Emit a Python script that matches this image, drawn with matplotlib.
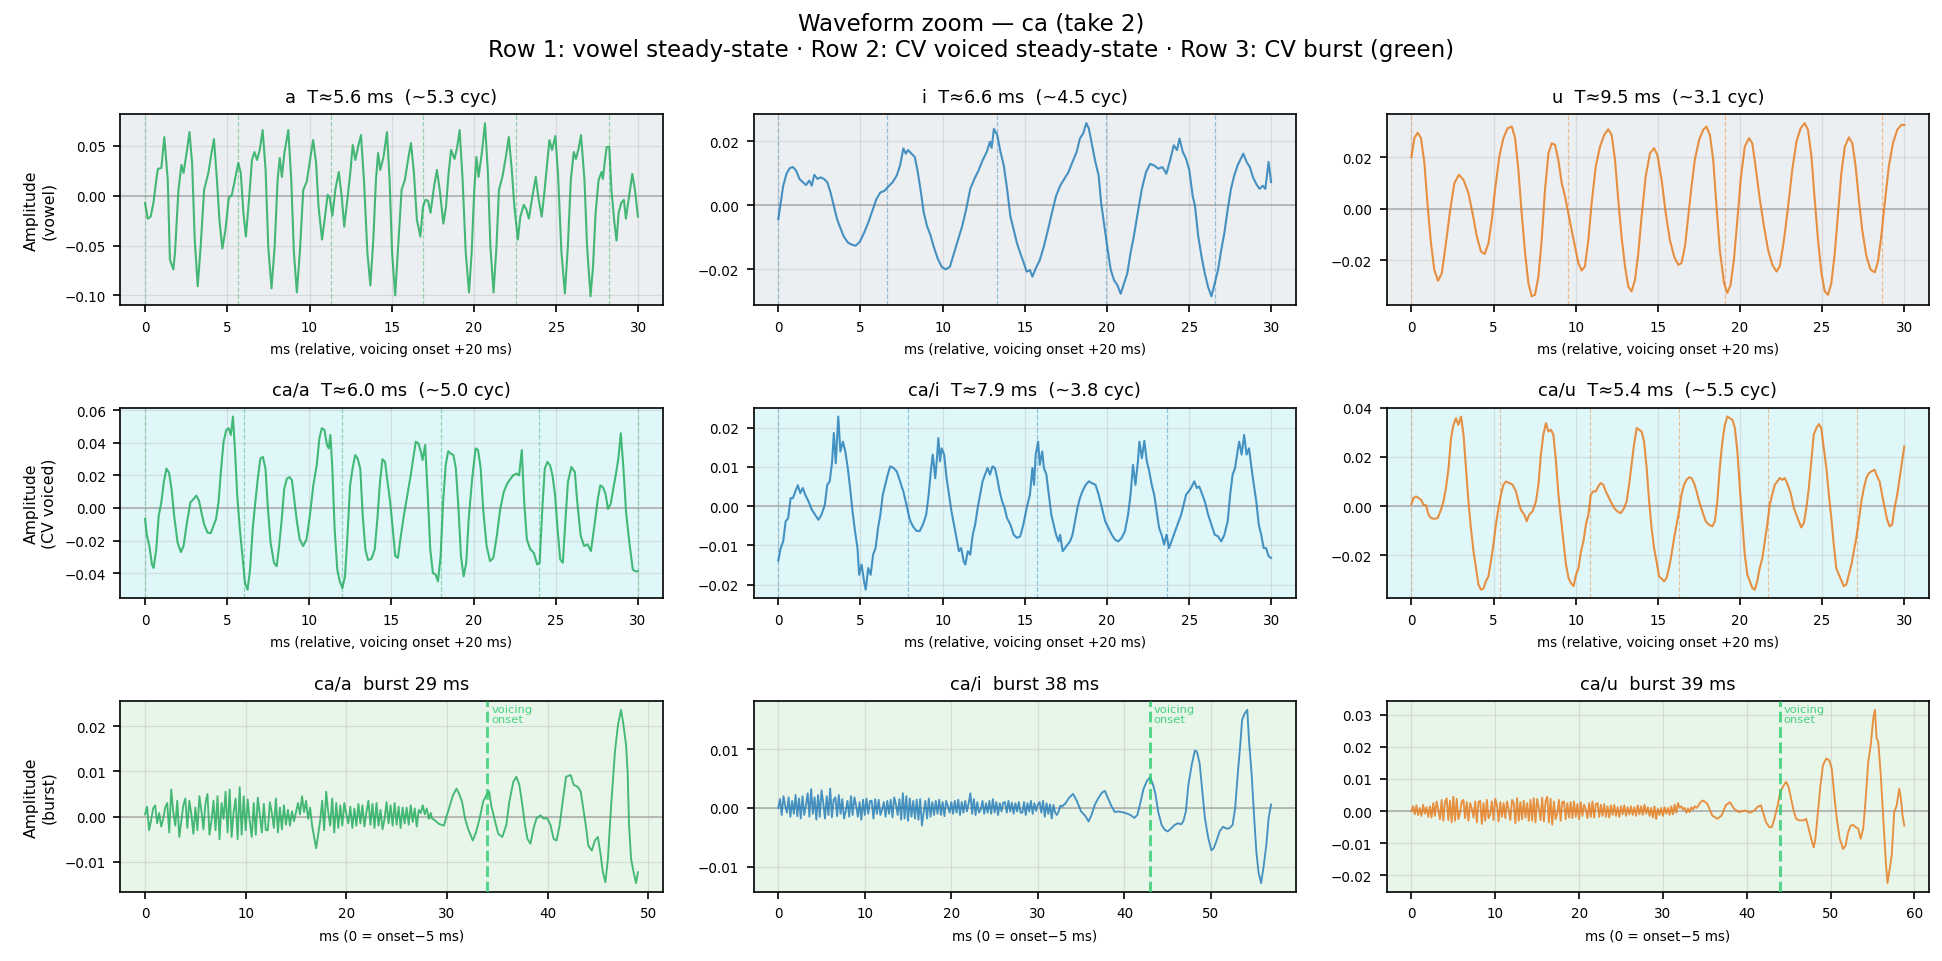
import numpy as np
import matplotlib
matplotlib.use("Agg")
import matplotlib.pyplot as plt
from matplotlib.ticker import MultipleLocator

# colours
C_A = "#27ae60"
C_I = "#2980b9"
C_U = "#e67e22"
C_ONSET = "#2ecc71"
BG_VOWEL = "#eceff1"
BG_CV = "#e0f7fa"
BG_BURST = "#e8f5e9"

WINDOW_MS = 30.0

# ---- row 1: vowel steady-state, (ms, amplitude) ----
VOWEL_A = [(0.00, -0.0073), (0.16, -0.023), (0.34, -0.021), (0.52, -0.006), (0.68, 0.016), (0.78, 0.027),
           (0.99, 0.028), (1.17, 0.059), (1.38, 0.016), (1.51, -0.064), (1.72, -0.074), (1.82, -0.057),
           (2.03, 0.006), (2.21, 0.031), (2.34, 0.023), (2.55, 0.046), (2.70, 0.064), (2.86, 0.033),
           (3.02, -0.044), (3.20, -0.091), (3.38, -0.051), (3.59, 0.006), (3.85, 0.023), (4.00, 0.039),
           (4.19, 0.057), (4.37, 0.016), (4.52, -0.024), (4.70, -0.053), (4.89, -0.034), (5.09, -0.002),
           (5.28, 0.001), (5.46, 0.016), (5.67, 0.033), (5.82, 0.023), (5.98, -0.017), (6.13, -0.041),
           (6.32, -0.004), (6.50, 0.036), (6.65, 0.044), (6.81, 0.036), (6.97, 0.046), (7.15, 0.066),
           (7.33, 0.026), (7.49, -0.051), (7.69, -0.093), (7.88, -0.051), (8.06, 0.016), (8.19, 0.038),
           (8.32, 0.019), (8.47, 0.043), (8.71, 0.066), (8.89, 0.016), (9.05, -0.057), (9.23, -0.097),
           (9.41, -0.057), (9.62, 0.006), (9.83, 0.014), (10.03, 0.036), (10.22, 0.056), (10.40, 0.033),
           (10.55, -0.011), (10.76, -0.044), (10.92, -0.024), (11.10, 0.001), (11.23, -0.002),
           (11.39, -0.020), (11.57, 0.006), (11.78, 0.024), (11.96, -0.001), (12.11, -0.031),
           (12.30, -0.004), (12.48, 0.023), (12.63, 0.051), (12.79, 0.036), (12.95, 0.049), (13.13, 0.061),
           (13.31, 0.016), (13.52, -0.057), (13.70, -0.090), (13.88, -0.044), (14.04, 0.016), (14.17, 0.043),
           (14.30, 0.026), (14.50, 0.039), (14.71, 0.064), (14.87, 0.016), (15.02, -0.057), (15.21, -0.100),
           (15.39, -0.051), (15.60, 0.006), (15.80, 0.016), (15.99, 0.036), (16.17, 0.053), (16.35, 0.023),
           (16.53, -0.024), (16.74, -0.041), (16.90, -0.011), (17.05, -0.004), (17.21, -0.005),
           (17.36, -0.017), (17.57, 0.009), (17.75, 0.026), (17.94, 0.003), (18.14, -0.028), (18.30, -0.011),
           (18.46, 0.023), (18.61, 0.046), (18.82, 0.037), (18.98, 0.049), (19.13, 0.066), (19.31, 0.016),
           (19.50, -0.057), (19.70, -0.097), (19.86, -0.057), (20.02, 0.006), (20.15, 0.039), (20.28, 0.019),
           (20.48, 0.043), (20.67, 0.073), (20.85, 0.023), (21.00, -0.051), (21.19, -0.097), (21.37, -0.051),
           (21.52, 0.006), (21.73, 0.019), (21.94, 0.039), (22.12, 0.059), (22.30, 0.026), (22.46, -0.011),
           (22.67, -0.044), (22.82, -0.021), (23.03, -0.009), (23.19, -0.014), (23.34, -0.023),
           (23.55, -0.001), (23.76, 0.019), (23.91, -0.001), (24.12, -0.021), (24.28, 0.003), (24.43, 0.029),
           (24.59, 0.056), (24.75, 0.046), (24.95, 0.060), (25.11, 0.023), (25.32, -0.057), (25.53, -0.098),
           (25.71, -0.051), (25.89, 0.016), (26.07, 0.044), (26.20, 0.037), (26.36, 0.047), (26.51, 0.061),
           (26.72, 0.016), (26.88, -0.051), (27.09, -0.101), (27.24, -0.071), (27.40, -0.017), (27.58, 0.016),
           (27.76, 0.024), (27.84, 0.017), (27.97, 0.036), (28.07, 0.049), (28.23, 0.049), (28.36, 0.006),
           (28.54, -0.027), (28.67, -0.045), (28.80, -0.017), (28.96, -0.007), (29.12, -0.004),
           (29.24, -0.023), (29.43, -0.001), (29.63, 0.022), (29.79, 0.006), (29.97, -0.021)]

VOWEL_I = [(0.00, -0.0044), (0.15, 0.0008), (0.30, 0.0060), (0.50, 0.0098), (0.70, 0.0116), (0.89, 0.0119),
           (1.09, 0.0108), (1.29, 0.0082), (1.49, 0.0072), (1.69, 0.0063), (1.89, 0.0077), (2.04, 0.0061),
           (2.19, 0.0095), (2.39, 0.0082), (2.59, 0.0087), (2.78, 0.0082), (2.98, 0.0072), (3.18, 0.0040),
           (3.38, -0.0002), (3.58, -0.0044), (3.78, -0.0071), (3.98, -0.0097), (4.23, -0.0116),
           (4.47, -0.0123), (4.72, -0.0126), (4.97, -0.0113), (5.22, -0.0086), (5.47, -0.0055),
           (5.72, -0.0018), (5.97, 0.0019), (6.21, 0.0040), (6.46, 0.0045), (6.71, 0.0059), (6.96, 0.0072),
           (7.21, 0.0093), (7.41, 0.0124), (7.61, 0.0177), (7.76, 0.0161), (7.90, 0.0172), (8.10, 0.0161),
           (8.30, 0.0151), (8.45, 0.0114), (8.65, 0.0051), (8.85, -0.0023), (9.05, -0.0065), (9.25, -0.0092),
           (9.45, -0.0128), (9.69, -0.0165), (9.94, -0.0192), (10.19, -0.0200), (10.44, -0.0192),
           (10.69, -0.0149), (10.94, -0.0107), (11.19, -0.0065), (11.43, -0.0013), (11.68, 0.0051),
           (11.93, 0.0082), (12.18, 0.0108), (12.43, 0.0140), (12.68, 0.0166), (12.88, 0.0198),
           (12.98, 0.0179), (13.12, 0.0238), (13.32, 0.0219), (13.52, 0.0166), (13.72, 0.0124),
           (13.92, 0.0051), (14.12, -0.0034), (14.32, -0.0076), (14.52, -0.0118), (14.72, -0.0149),
           (14.91, -0.0176), (15.11, -0.0207), (15.31, -0.0202), (15.46, -0.0223), (15.66, -0.0197),
           (15.91, -0.0171), (16.16, -0.0128), (16.41, -0.0076), (16.65, -0.0023), (16.90, 0.0029),
           (17.15, 0.0061), (17.40, 0.0082), (17.65, 0.0103), (17.90, 0.0135), (18.15, 0.0166),
           (18.35, 0.0208), (18.55, 0.0224), (18.74, 0.0256), (18.89, 0.0240), (19.09, 0.0187),
           (19.29, 0.0135), (19.49, 0.0093), (19.64, 0.0008), (19.84, -0.0065), (20.04, -0.0139),
           (20.23, -0.0202), (20.43, -0.0234), (20.63, -0.0249), (20.83, -0.0276), (21.03, -0.0244),
           (21.23, -0.0213), (21.43, -0.0149), (21.63, -0.0097), (21.87, -0.0023), (22.12, 0.0051),
           (22.37, 0.0103), (22.62, 0.0129), (22.87, 0.0124), (23.12, 0.0114), (23.37, 0.0119),
           (23.61, 0.0098), (23.86, 0.0145), (24.06, 0.0187), (24.26, 0.0172), (24.41, 0.0208),
           (24.61, 0.0166), (24.81, 0.0145), (25.01, 0.0108), (25.21, 0.0029), (25.35, -0.0002),
           (25.55, -0.0097), (25.75, -0.0160), (25.95, -0.0213), (26.15, -0.0255), (26.35, -0.0284),
           (26.55, -0.0244), (26.75, -0.0202), (26.95, -0.0139), (27.14, -0.0086), (27.34, -0.0013),
           (27.54, 0.0051), (27.74, 0.0093), (27.94, 0.0124), (28.14, 0.0145), (28.29, 0.0161),
           (28.49, 0.0135), (28.69, 0.0119), (28.88, 0.0087), (29.08, 0.0066), (29.28, 0.0051),
           (29.48, 0.0061), (29.63, 0.0051), (29.83, 0.0135), (29.98, 0.0072)]

VOWEL_U = [(0.00, 0.0201), (0.18, 0.0274), (0.38, 0.0295), (0.58, 0.0274), (0.79, 0.0177), (0.99, 0.0009),
           (1.19, -0.0133), (1.39, -0.0236), (1.62, -0.0279), (1.85, -0.0249), (2.10, -0.0133),
           (2.36, -0.0004), (2.61, 0.0099), (2.89, 0.0132), (3.17, 0.0112), (3.47, 0.0061), (3.72, -0.0017),
           (3.98, -0.0107), (4.23, -0.0165), (4.46, -0.0175), (4.69, -0.0133), (4.89, -0.0043),
           (5.09, 0.0074), (5.35, 0.0203), (5.60, 0.0274), (5.85, 0.0312), (6.11, 0.0319), (6.31, 0.0274),
           (6.51, 0.0151), (6.71, -0.0017), (6.92, -0.0172), (7.12, -0.0288), (7.32, -0.0339),
           (7.52, -0.0333), (7.73, -0.0262), (7.93, -0.0120), (8.13, 0.0074), (8.34, 0.0215), (8.54, 0.0254),
           (8.74, 0.0248), (8.94, 0.0190), (9.15, 0.0099), (9.35, 0.0048), (9.55, -0.0017), (9.75, -0.0081),
           (9.96, -0.0146), (10.16, -0.0210), (10.36, -0.0239), (10.56, -0.0223), (10.77, -0.0120),
           (10.97, 0.0022), (11.22, 0.0164), (11.48, 0.0241), (11.73, 0.0286), (11.98, 0.0308),
           (12.19, 0.0286), (12.39, 0.0190), (12.59, 0.0035), (12.79, -0.0107), (13.00, -0.0223),
           (13.20, -0.0301), (13.40, -0.0320), (13.61, -0.0275), (13.81, -0.0172), (14.01, -0.0030),
           (14.26, 0.0125), (14.52, 0.0215), (14.77, 0.0235), (14.97, 0.0209), (15.23, 0.0112),
           (15.48, -0.0017), (15.73, -0.0120), (15.99, -0.0185), (16.24, -0.0217), (16.44, -0.0210),
           (16.65, -0.0146), (16.85, -0.0030), (17.05, 0.0086), (17.25, 0.0190), (17.51, 0.0267),
           (17.76, 0.0306), (17.96, 0.0319), (18.17, 0.0286), (18.37, 0.0190), (18.57, 0.0009),
           (18.77, -0.0159), (19.03, -0.0288), (19.23, -0.0326), (19.43, -0.0294), (19.63, -0.0197),
           (19.84, -0.0043), (20.04, 0.0112), (20.29, 0.0241), (20.55, 0.0274), (20.75, 0.0254),
           (20.95, 0.0164), (21.21, 0.0035), (21.46, -0.0068), (21.71, -0.0159), (21.97, -0.0217),
           (22.22, -0.0243), (22.42, -0.0223), (22.68, -0.0120), (22.93, 0.0009), (23.18, 0.0151),
           (23.44, 0.0261), (23.69, 0.0312), (23.94, 0.0332), (24.14, 0.0306), (24.35, 0.0203),
           (24.55, 0.0035), (24.75, -0.0120), (24.96, -0.0249), (25.16, -0.0320), (25.36, -0.0333),
           (25.56, -0.0288), (25.77, -0.0172), (25.97, -0.0017), (26.17, 0.0138), (26.38, 0.0241),
           (26.63, 0.0277), (26.84, 0.0254), (27.04, 0.0164), (27.24, 0.0035), (27.44, -0.0081),
           (27.70, -0.0185), (27.95, -0.0236), (28.21, -0.0246), (28.40, -0.0204), (28.60, -0.0107),
           (28.81, 0.0022), (29.06, 0.0164), (29.31, 0.0254), (29.57, 0.0306), (29.82, 0.0325),
           (30.00, 0.0325)]

# ---- row 2: CV voiced steady-state ----
CV_A = [(0.00, -0.0068), (0.10, -0.0161), (0.26, -0.0234), (0.42, -0.0347), (0.52, -0.0368), (0.68, -0.0254),
        (0.83, -0.0048), (0.99, 0.0035), (1.14, 0.0159), (1.30, 0.0242), (1.46, 0.0217), (1.61, 0.0118),
        (1.77, -0.0048), (1.98, -0.0213), (2.18, -0.0271), (2.34, -0.0234), (2.55, -0.0089), (2.76, 0.0035),
        (2.96, 0.0056), (3.12, 0.0076), (3.28, 0.0045), (3.43, -0.0027), (3.59, -0.0099), (3.80, -0.0151),
        (4.00, -0.0155), (4.16, -0.0110), (4.32, -0.0068), (4.47, 0.0035), (4.63, 0.0242), (4.78, 0.0407),
        (4.94, 0.0480), (5.09, 0.0490), (5.22, 0.0449), (5.35, 0.0562), (5.48, 0.0345), (5.61, 0.0076),
        (5.77, -0.0130), (5.93, -0.0296), (6.08, -0.0461), (6.24, -0.0502), (6.39, -0.0378), (6.55, -0.0130),
        (6.71, 0.0035), (6.86, 0.0180), (7.02, 0.0304), (7.17, 0.0314), (7.33, 0.0242), (7.48, -0.0006),
        (7.64, -0.0213), (7.85, -0.0337), (8.01, -0.0358), (8.16, -0.0234), (8.32, -0.0068), (8.47, 0.0118),
        (8.63, 0.0180), (8.79, 0.0190), (8.94, 0.0170), (9.10, 0.0035), (9.25, -0.0089), (9.41, -0.0192),
        (9.62, -0.0234), (9.83, -0.0192), (10.03, -0.0048), (10.24, 0.0139), (10.45, 0.0263),
        (10.61, 0.0428), (10.76, 0.0490), (10.92, 0.0480), (11.07, 0.0387), (11.18, 0.0366),
        (11.28, 0.0449), (11.39, 0.0263), (11.54, -0.0130), (11.70, -0.0378), (11.85, -0.0451),
        (12.01, -0.0492), (12.17, -0.0420), (12.32, -0.0172), (12.48, 0.0139), (12.63, 0.0242),
        (12.79, 0.0325), (12.94, 0.0304), (13.10, 0.0242), (13.25, -0.0048), (13.41, -0.0254),
        (13.57, -0.0320), (13.78, -0.0312), (13.98, -0.0254), (14.14, -0.0068), (14.30, 0.0159),
        (14.45, 0.0300), (14.61, 0.0283), (14.76, 0.0159), (14.92, 0.0035), (15.08, -0.0130),
        (15.23, -0.0296), (15.39, -0.0306), (15.54, -0.0192), (15.75, -0.0048), (15.96, 0.0076),
        (16.17, 0.0201), (16.32, 0.0304), (16.48, 0.0407), (16.64, 0.0397), (16.79, 0.0345),
        (16.89, 0.0294), (17.05, 0.0387), (17.21, 0.0076), (17.36, -0.0254), (17.52, -0.0399),
        (17.68, -0.0409), (17.83, -0.0451), (17.99, -0.0296), (18.14, 0.0035), (18.30, 0.0263),
        (18.45, 0.0349), (18.61, 0.0335), (18.77, 0.0325), (18.92, 0.0242), (19.08, -0.0006),
        (19.23, -0.0296), (19.39, -0.0420), (19.55, -0.0337), (19.70, -0.0068), (19.91, 0.0180),
        (20.12, 0.0366), (20.27, 0.0356), (20.43, 0.0242), (20.58, -0.0006), (20.79, -0.0234),
        (21.00, -0.0327), (21.20, -0.0306), (21.41, -0.0172), (21.62, -0.0006), (21.83, 0.0097),
        (22.04, 0.0149), (22.25, 0.0180), (22.41, 0.0201), (22.61, 0.0211), (22.77, 0.0201),
        (22.93, 0.0356), (23.08, 0.0035), (23.24, -0.0192), (23.45, -0.0254), (23.66, -0.0275),
        (23.87, -0.0347), (24.02, -0.0337), (24.18, -0.0006), (24.33, 0.0242), (24.49, 0.0283),
        (24.65, 0.0263), (24.80, 0.0201), (24.96, 0.0076), (25.11, -0.0130), (25.27, -0.0316),
        (25.43, -0.0337), (25.58, -0.0089), (25.74, 0.0159), (25.95, 0.0252), (26.16, 0.0221),
        (26.31, 0.0035), (26.52, -0.0172), (26.73, -0.0234), (26.93, -0.0223), (27.14, -0.0265),
        (27.35, -0.0110), (27.56, 0.0056), (27.71, 0.0139), (27.87, 0.0128), (28.03, 0.0087),
        (28.18, -0.0006), (28.34, 0.0025), (28.50, 0.0118), (28.65, 0.0201), (28.81, 0.0304),
        (28.96, 0.0459), (29.12, 0.0242), (29.28, -0.0027), (29.48, -0.0213), (29.69, -0.0378),
        (29.85, -0.0389), (30.00, -0.0389)]

CV_I = [(0.00, -0.0139), (0.15, -0.0107), (0.30, -0.0090), (0.45, -0.0039), (0.60, -0.0031), (0.75, 0.0020),
        (0.89, 0.0020), (1.04, 0.0037), (1.19, 0.0053), (1.34, 0.0033), (1.49, 0.0046), (1.64, 0.0029),
        (1.84, 0.0012), (2.04, -0.0009), (2.24, -0.0022), (2.44, -0.0035), (2.63, -0.0022), (2.83, 0.0003),
        (2.98, 0.0054), (3.13, 0.0063), (3.28, 0.0114), (3.38, 0.0186), (3.50, 0.0109), (3.65, 0.0228),
        (3.78, 0.0139), (3.93, 0.0164), (4.08, 0.0139), (4.23, 0.0097), (4.37, 0.0046), (4.52, -0.0014),
        (4.67, -0.0064), (4.82, -0.0107), (4.92, -0.0175), (5.07, -0.0149), (5.22, -0.0192),
        (5.32, -0.0213), (5.47, -0.0158), (5.62, -0.0175), (5.77, -0.0124), (5.92, -0.0107),
        (6.07, -0.0056), (6.21, -0.0022), (6.36, 0.0029), (6.51, 0.0054), (6.66, 0.0080), (6.81, 0.0101),
        (7.01, 0.0097), (7.21, 0.0088), (7.41, 0.0063), (7.61, 0.0037), (7.80, 0.0003), (8.00, -0.0035),
        (8.20, -0.0052), (8.40, -0.0063), (8.60, -0.0064), (8.80, -0.0047), (9.00, -0.0022), (9.15, 0.0029),
        (9.30, 0.0097), (9.40, 0.0131), (9.55, 0.0071), (9.64, 0.0114), (9.74, 0.0173), (9.84, 0.0114),
        (9.94, 0.0147), (10.09, 0.0131), (10.24, 0.0071), (10.39, 0.0029), (10.54, -0.0014),
        (10.69, -0.0047), (10.84, -0.0081), (10.99, -0.0115), (11.13, -0.0107), (11.28, -0.0141),
        (11.38, -0.0149), (11.53, -0.0115), (11.68, -0.0124), (11.83, -0.0073), (11.98, -0.0047),
        (12.13, -0.0005), (12.28, 0.0029), (12.43, 0.0063), (12.58, 0.0080), (12.73, 0.0097),
        (12.88, 0.0080), (13.03, 0.0101), (13.18, 0.0097), (13.32, 0.0071), (13.47, 0.0037),
        (13.62, 0.0012), (13.77, -0.0005), (13.92, -0.0031), (14.12, -0.0047), (14.32, -0.0073),
        (14.52, -0.0081), (14.72, -0.0077), (14.91, -0.0047), (15.11, -0.0005), (15.31, 0.0029),
        (15.46, 0.0097), (15.56, 0.0054), (15.66, 0.0131), (15.81, 0.0164), (15.91, 0.0105),
        (16.06, 0.0139), (16.16, 0.0097), (16.31, 0.0080), (16.46, 0.0029), (16.61, -0.0022),
        (16.75, -0.0047), (16.90, -0.0073), (17.05, -0.0090), (17.15, -0.0073), (17.30, -0.0115),
        (17.45, -0.0107), (17.60, -0.0098), (17.75, -0.0090), (17.90, -0.0073), (18.05, -0.0039),
        (18.20, -0.0005), (18.35, 0.0020), (18.50, 0.0037), (18.70, 0.0054), (18.90, 0.0063),
        (19.10, 0.0058), (19.30, 0.0054), (19.49, 0.0029), (19.69, -0.0005), (19.89, -0.0039),
        (20.09, -0.0056), (20.29, -0.0073), (20.49, -0.0086), (20.69, -0.0090), (20.89, -0.0081),
        (21.09, -0.0064), (21.28, -0.0022), (21.43, 0.0029), (21.58, 0.0105), (21.73, 0.0054),
        (21.88, 0.0114), (21.97, 0.0164), (22.12, 0.0122), (22.27, 0.0166), (22.42, 0.0114),
        (22.57, 0.0088), (22.72, 0.0054), (22.87, 0.0029), (23.02, -0.0014), (23.17, -0.0056),
        (23.32, -0.0073), (23.47, -0.0098), (23.62, -0.0073), (23.77, -0.0107), (23.92, -0.0090),
        (24.07, -0.0073), (24.21, -0.0056), (24.36, -0.0039), (24.51, -0.0022), (24.66, 0.0003),
        (24.81, 0.0029), (24.96, 0.0037), (25.11, 0.0046), (25.31, 0.0063), (25.46, 0.0046),
        (25.61, 0.0050), (25.76, 0.0033), (25.95, 0.0012), (26.15, -0.0022), (26.35, -0.0047),
        (26.55, -0.0073), (26.75, -0.0077), (26.95, -0.0090), (27.14, -0.0073), (27.34, -0.0039),
        (27.49, 0.0029), (27.64, 0.0080), (27.79, 0.0097), (27.94, 0.0139), (28.04, 0.0164),
        (28.19, 0.0131), (28.34, 0.0181), (28.49, 0.0131), (28.64, 0.0147), (28.79, 0.0097),
        (28.93, 0.0054), (29.08, 0.0012), (29.23, -0.0047), (29.38, -0.0073), (29.53, -0.0107),
        (29.68, -0.0107), (29.83, -0.0128), (29.98, -0.0132)]

CV_U = [(0.00, 0.0008), (0.13, 0.0033), (0.28, 0.0039), (0.43, 0.0033), (0.58, 0.0026), (0.73, 0.0005),
        (0.89, 0.0003), (1.04, -0.0035), (1.19, -0.0049), (1.39, -0.0052), (1.60, -0.0049), (1.80, -0.0015),
        (1.95, 0.0019), (2.10, 0.0073), (2.26, 0.0155), (2.41, 0.0277), (2.56, 0.0331), (2.71, 0.0358),
        (2.86, 0.0331), (3.02, 0.0365), (3.17, 0.0291), (3.32, 0.0155), (3.47, 0.0019), (3.62, -0.0090),
        (3.78, -0.0185), (3.93, -0.0253), (4.08, -0.0320), (4.23, -0.0341), (4.38, -0.0337),
        (4.53, -0.0307), (4.69, -0.0286), (4.84, -0.0225), (4.99, -0.0157), (5.14, -0.0076),
        (5.30, -0.0008), (5.45, 0.0046), (5.60, 0.0087), (5.75, 0.0100), (5.95, 0.0094), (6.16, 0.0087),
        (6.36, 0.0060), (6.51, 0.0019), (6.66, -0.0015), (6.87, -0.0035), (7.02, -0.0062), (7.17, -0.0035),
        (7.37, -0.0022), (7.58, 0.0019), (7.73, 0.0087), (7.88, 0.0209), (8.03, 0.0291), (8.19, 0.0338),
        (8.34, 0.0304), (8.49, 0.0311), (8.64, 0.0291), (8.80, 0.0182), (8.95, 0.0046), (9.10, -0.0049),
        (9.25, -0.0144), (9.41, -0.0239), (9.56, -0.0293), (9.71, -0.0314), (9.87, -0.0327),
        (10.02, -0.0280), (10.17, -0.0253), (10.32, -0.0185), (10.47, -0.0144), (10.62, -0.0076),
        (10.77, -0.0035), (10.92, 0.0046), (11.07, 0.0060), (11.22, 0.0060), (11.37, 0.0080),
        (11.52, 0.0094), (11.68, 0.0087), (11.83, 0.0060), (11.98, 0.0039), (12.13, 0.0019),
        (12.34, -0.0008), (12.54, -0.0022), (12.74, -0.0029), (12.95, -0.0008), (13.10, 0.0019),
        (13.25, 0.0087), (13.40, 0.0168), (13.55, 0.0250), (13.71, 0.0318), (13.86, 0.0311),
        (14.01, 0.0304), (14.16, 0.0263), (14.32, 0.0155), (14.47, 0.0019), (14.62, -0.0090),
        (14.77, -0.0171), (14.92, -0.0225), (15.07, -0.0286), (15.23, -0.0296), (15.38, -0.0307),
        (15.53, -0.0293), (15.68, -0.0253), (15.83, -0.0198), (15.99, -0.0130), (16.14, -0.0076),
        (16.29, -0.0022), (16.44, 0.0046), (16.59, 0.0087), (16.75, 0.0107), (16.90, 0.0117),
        (17.05, 0.0114), (17.20, 0.0094), (17.36, 0.0060), (17.51, 0.0019), (17.71, -0.0022),
        (17.91, -0.0062), (18.11, -0.0076), (18.32, -0.0083), (18.47, -0.0062), (18.62, 0.0019),
        (18.77, 0.0155), (18.93, 0.0263), (19.08, 0.0331), (19.23, 0.0365), (19.38, 0.0358),
        (19.54, 0.0352), (19.69, 0.0318), (19.84, 0.0223), (19.99, 0.0073), (20.14, -0.0062),
        (20.29, -0.0198), (20.45, -0.0280), (20.60, -0.0307), (20.75, -0.0334), (20.90, -0.0341),
        (21.05, -0.0307), (21.20, -0.0253), (21.36, -0.0212), (21.51, -0.0144), (21.66, -0.0076),
        (21.81, 0.0005), (21.96, 0.0046), (22.12, 0.0087), (22.27, 0.0100), (22.42, 0.0114),
        (22.57, 0.0107), (22.72, 0.0114), (22.87, 0.0094), (23.08, 0.0053), (23.28, -0.0008),
        (23.43, -0.0035), (23.58, -0.0062), (23.73, -0.0087), (23.89, -0.0069), (24.04, -0.0008),
        (24.19, 0.0073), (24.34, 0.0182), (24.49, 0.0291), (24.65, 0.0318), (24.80, 0.0334),
        (24.95, 0.0318), (25.10, 0.0236), (25.26, 0.0155), (25.41, 0.0046), (25.56, -0.0049),
        (25.71, -0.0157), (25.86, -0.0253), (26.02, -0.0280), (26.17, -0.0304), (26.32, -0.0327),
        (26.47, -0.0320), (26.62, -0.0280), (26.78, -0.0239), (26.93, -0.0185), (27.08, -0.0130),
        (27.23, -0.0062), (27.39, 0.0019), (27.54, 0.0073), (27.69, 0.0114), (27.84, 0.0134),
        (27.99, 0.0141), (28.19, 0.0148), (28.35, 0.0121), (28.50, 0.0100), (28.65, 0.0046),
        (28.81, -0.0008), (28.96, -0.0056), (29.11, -0.0083), (29.26, -0.0076), (29.41, -0.0008),
        (29.57, 0.0046), (29.72, 0.0114), (29.87, 0.0182), (30.00, 0.0243)]

# fundamental period estimates (ms)
PERIODS = {"a": 5.64, "i": 6.64, "u": 9.54, "ca/a": 6.0, "ca/i": 7.88, "ca/u": 5.42}

# ---- row 3: CV burst; noise part sampled every 0.2 ms (units of 1e-4), then voiced tail ----
NOISE_DT = 0.2
BURST_MS = {"ca/a": 29, "ca/i": 38, "ca/u": 39}

NOISE_CA_A = [5, 22, -30, -8, 18, 25, -15, 8, -22, -5, 20,
              30, -35, 60, 10, -20, 35, -45, -10, 25, 40,
              -25, 35, 5, -38, 20, -30, 45, 12, -28, 30,
              50, -40, -10, 35, -30, 45, -50, 30, -5, 55,
              -35, 60, -45, 10, 40, -50, 65, -40, 45, -30,
              38, -10, -45, 30, -40, 42, 5, -35, 28, -30,
              -30, 32, 8, -25, 40, -35, 20, -28, 25, -18,
              15, -20, 12, -10, 10,
              30, 5, 45, 10, 35, -5, 20,
              -20, -45, -70, -40, -10,
              35, -30, 55, 10, -20, 40, -35, 30,
              -25, 25, -20, 30, 5, -15, 22, -25, 18, -20,
              28, -15, 25, -22, 10, 35, -18, 28, -25, 30, -20, 15, -28, -5, 32, -15, 25, -20, 30, -18,
              22, -25, 20, -15, 20, -18, 25, -12, 18, -22,
              15, 8, 25, 5, 18, -5, 8]

NOISE_CA_I = [0, 15, -12, 20, 4, -8, 18, -15, 12, -10, 22,
              -14, 16, -18, 20, -12, 5, 25, -15, 32, -10,
              18, -20, 22, -15, 30, 8, -18, 20, -12, 33,
              -16, 14, 18, -14, 22, -10, 15, -18, -5, 12,
              -15, 20, -12, 18, 4, -15, 10, -20, 14, -12,
              16, -10, 12, 12, -18, 15, -10, 14, -12, -3,
              10, -15, 12, -10, 14, -16, 18, 6, -12, 15,
              -20, 25, -18, 20, -22, 16, -15, 12, -18, 14,
              -20, 15, -30, -8, 12, -18, 16, -15, 10, -12,
              12, -10, 14, -12, 10, -14, 12, 3, -8, 10,
              -10, 12, -8, 14, -12, 10, -8, 12, -6, 8,
              25, -10, 15, -12, 10, -8, -3, 12, -10, 8,
              -8, 12, -10, 15, -8, 10, -12, 8, -6, 9,
              10, -8, 12, -6, 9, -10, 8, -6, 10, -8,
              -8, 10, -12, 8, -6, 12, -10, 8, -5, 6,
              10, -8, 12, -15, 8, -10, 6, -18, 5, -8,
              -12, -6, 4, 2, 6]

NOISE_CA_U = [0, 15, -10, 18, -12, 10, -15, 20, -8, 12, -18,
              15, -20, 25, -15, 30, 5, -25, 35, -30, 28,
              40, -28, 32, -35, 45, -30, 38, -25, -5, 30,
              35, -22, 28, -30, 25, 8, -20, 30, -35, 28,
              32, -40, 25, -30, 35, -22, -10, 30, -28, 38,
              20, -32, 28, -18, 25, -22, 30, 5, -28, 35,
              25, -38, 40, -30, 28, -25, 32, -20, 25, -30,
              35, -30, 40, -35, 38, 10, -28, 42, -32, 30,
              45, -35, 38, -42, 30, -25, -8, 35, -30, 28,
              30, -25, 25, -20, 28, -22, 30, -18, 22, -25,
              28, -15, 20, 5, -22, 25, -18, 30, -20, 22,
              25, -18, 20, -15, 22, -18, 15, -20, 18, -12,
              20, -15, 12, -18, 15, -10, 18, -15, 12, -10,
              15, -12, 12, -15, 18, -10, 15, -12, 20, -8,
              12, -15, 10, -20, 15, -25, 8, -12, 10, -15,
              12, -8, 10, -12, 15, -10, 20, -5, 25, 10,
              15, 5, 10, -5, 8, -3, 12, 5, 15, 10,
              15, 25, 30]

TAIL_CA_A = [(28.5, -0.0004), (28.8, -0.0008), (29.2, -0.0016), (29.7, -0.0020), (30.0, 0.0003), (30.3, 0.0025),
             (30.6, 0.0047), (30.95, 0.0062), (31.2, 0.0051), (31.5, 0.0033), (31.8, -0.0004), (32.1, -0.0027),
             (32.57, -0.0053), (32.9, -0.0034), (33.25, -0.0004), (33.6, 0.0033), (33.9, 0.0047),
             (34.2, 0.0055), (34.4, 0.0025), (34.8, -0.0012), (35.1, -0.0038), (35.5, -0.0045),
             (35.9, -0.0019), (36.2, 0.0033), (36.6, 0.0077), (36.9, 0.0088), (37.2, 0.0070), (37.5, 0.0025),
             (37.76, -0.0019), (38.0, -0.0049), (38.3, -0.0060), (38.6, -0.0027), (38.9, -0.0004),
             (39.3, 0.0003), (39.6, -0.0004), (39.97, -0.0004), (40.3, -0.0019), (40.6, -0.0049),
             (40.9, -0.0053), (41.2, -0.0019), (41.5, 0.0033), (41.84, 0.0088), (42.3, 0.0092),
             (42.6, 0.0070), (43.0, 0.0066), (43.3, 0.0055), (43.5, 0.0025), (43.8, -0.0019),
             (44.05, -0.0064), (44.4, -0.0075), (44.7, -0.0053), (45.0, -0.0045), (45.24, -0.0079),
             (45.5, -0.0123), (45.75, -0.0145), (46.0, -0.0093), (46.3, 0.0018), (46.7, 0.0144),
             (47.0, 0.0203), (47.3, 0.0236), (47.5, 0.0210), (47.8, 0.0159), (47.96, 0.0099),
             (48.1, -0.0019), (48.3, -0.0093), (48.55, -0.0123), (48.8, -0.0147), (48.98, -0.0123)]

TAIL_CA_I = [(33.1, 0.0006), (33.6, 0.0017), (34.06, 0.0024), (34.5, 0.0012), (35.0, -0.0006), (35.5, -0.0014),
             (35.86, -0.0023), (36.2, -0.0012), (36.6, 0.0006), (37.0, 0.0017), (37.4, 0.0026),
             (37.75, 0.0029), (38.1, 0.0017), (38.5, 0.0003), (38.9, -0.0007), (39.3, -0.0006),
             (39.7, -0.0007), (40.2, -0.0009), (40.7, -0.0012), (41.15, -0.0017), (41.5, -0.0012),
             (41.9, 0.0012), (42.2, 0.0032), (42.6, 0.0046), (42.97, 0.0052), (43.3, 0.0040), (43.6, 0.0023),
             (43.9, -0.0006), (44.3, -0.0029), (44.65, -0.0037), (45.0, -0.0040), (45.4, -0.0035),
             (45.8, -0.0029), (46.2, -0.0026), (46.55, -0.0028), (46.8, -0.0023), (47.1, -0.0006),
             (47.4, 0.0040), (47.8, 0.0075), (48.15, 0.0098), (48.4, 0.0095), (48.7, 0.0075), (49.0, 0.0029),
             (49.3, -0.0017), (49.7, -0.0052), (50.05, -0.0072), (50.3, -0.0069), (50.6, -0.0058),
             (51.0, -0.0040), (51.4, -0.0032), (51.75, -0.0035), (52.1, -0.0035), (52.5, -0.0029),
             (52.8, 0.0000), (53.1, 0.0058), (53.4, 0.0110), (53.6, 0.0150), (53.9, 0.0161), (54.2, 0.0167),
             (54.4, 0.0115), (54.7, 0.0058), (55.0, -0.0017), (55.25, -0.0075), (55.5, -0.0110),
             (55.8, -0.0128), (56.1, -0.0098), (56.4, -0.0063), (56.67, -0.0017), (56.95, 0.0006)]

TAIL_CA_U = [(34.8, 0.0033), (35.3, 0.0023), (35.9, -0.0014), (36.5, -0.0024), (37.0, -0.0014), (37.5, 0.0018),
             (38.0, 0.0028), (38.5, 0.0007), (39.1, -0.0003), (39.8, 0.0002), (40.4, -0.0005), (40.9, 0.0002),
             (41.3, 0.0013), (41.7, 0.0018), (42.0, -0.0008), (42.3, -0.0034), (42.7, -0.0050),
             (43.0, -0.0050), (43.3, -0.0024), (43.7, 0.0018), (44.0, 0.0059), (44.3, 0.0075), (44.7, 0.0091),
             (45.0, 0.0075), (45.3, 0.0039), (45.6, 0.0002), (45.9, -0.0024), (46.3, -0.0029),
             (46.8, -0.0029), (47.1, -0.0024), (47.4, -0.0055), (47.7, -0.0086), (48.0, -0.0113),
             (48.2, -0.0086), (48.5, -0.0003), (48.8, 0.0080), (49.1, 0.0143), (49.5, 0.0164),
             (49.85, 0.0158), (50.15, 0.0132), (50.45, 0.0049), (50.75, -0.0024), (51.1, -0.0086),
             (51.5, -0.0118), (51.8, -0.0107), (52.1, -0.0066), (52.4, -0.0045), (52.7, -0.0043),
             (53.0, -0.0050), (53.3, -0.0055), (53.6, -0.0086), (53.9, -0.0055), (54.2, 0.0039),
             (54.5, 0.0153), (54.8, 0.0205), (55.1, 0.0289), (55.3, 0.0315), (55.5, 0.0226), (55.7, 0.0216),
             (56.0, 0.0111), (56.3, -0.0024), (56.6, -0.0159), (56.8, -0.0224), (57.0, -0.0191),
             (57.3, -0.0139), (57.6, -0.0003), (57.9, 0.0018), (58.2, 0.0070), (58.4, 0.0039),
             (58.6, -0.0014), (58.8, -0.0045)]

VOWELS = ["a", "i", "u"]
COLORS = [C_A, C_I, C_U]
ROW1 = [VOWEL_A, VOWEL_I, VOWEL_U]
ROW2 = [CV_A, CV_I, CV_U]
NOISES = [NOISE_CA_A, NOISE_CA_I, NOISE_CA_U]
TAILS = [TAIL_CA_A, TAIL_CA_I, TAIL_CA_U]
Y_STEP_R1 = [0.05, 0.02, 0.02]
Y_STEP_R2 = [0.02, 0.01, 0.02]

plt.rcParams["font.family"] = "DejaVu Sans"
fig, axes = plt.subplots(3, 3, figsize=(12.95, 6.413), dpi=150)
fig.subplots_adjust(left=0.062, right=0.993, bottom=0.072, top=0.880, wspace=0.168, hspace=0.54)
fig.suptitle("Waveform zoom \u2014 ca (take 2)\n"
             "Row 1: vowel steady-state \u00b7 Row 2: CV voiced steady-state \u00b7 Row 3: CV burst (green)",
             fontsize=11, y=0.987)


def style(ax, bg, ystep, xstep):
    ax.set_facecolor(bg)
    ax.grid(True, alpha=0.35, lw=0.6)
    ax.axhline(0, color="#b0b0b0", lw=0.8, zorder=1)
    ax.yaxis.set_major_locator(MultipleLocator(ystep))
    ax.xaxis.set_major_locator(MultipleLocator(xstep))
    ax.tick_params(labelsize=6.5)


def steady(ax, series, key, color, bg, ystep, ylabel):
    arr = np.array(series)
    style(ax, bg, ystep, 5)
    T = PERIODS[key]
    k = 0
    while k * T <= WINDOW_MS + 1e-6:
        ax.axvline(k * T, color=color, lw=0.6, ls="--", alpha=0.45, zorder=1)
        k += 1
    ax.plot(arr[:, 0], arr[:, 1], color=color, lw=1.0, alpha=0.85, zorder=3)
    ax.set_title(f"{key}  T\u2248{T:.1f} ms  (~{WINDOW_MS / T:.1f} cyc)", fontsize=8.5)
    ax.set_xlabel("ms (relative, voicing onset +20 ms)", fontsize=6.5)
    if ylabel:
        ax.set_ylabel(ylabel, fontsize=7.5)


for j in range(3):
    steady(axes[0, j], ROW1[j], VOWELS[j], COLORS[j], BG_VOWEL, Y_STEP_R1[j],
           "Amplitude\n(vowel)" if j == 0 else None)
    steady(axes[1, j], ROW2[j], "ca/" + VOWELS[j], COLORS[j], BG_CV, Y_STEP_R2[j],
           "Amplitude\n(CV voiced)" if j == 0 else None)

    ax = axes[2, j]
    key = "ca/" + VOWELS[j]
    noise = np.array(NOISES[j]) * 1e-4
    tail = np.array(TAILS[j])
    t = np.concatenate([np.arange(len(noise)) * NOISE_DT, tail[:, 0]])
    y = np.concatenate([noise, tail[:, 1]])
    style(ax, BG_BURST, 0.01, 10)
    ax.plot(t, y, color=COLORS[j], lw=0.9, alpha=0.85, zorder=3)
    onset = 5 + BURST_MS[key]
    ax.axvline(onset, color=C_ONSET, lw=1.4, ls="--", alpha=0.8, zorder=4)
    ax.text(onset + 0.4, 0.985, "voicing\nonset", transform=ax.get_xaxis_transform(),
            fontsize=5.5, color=C_ONSET, alpha=0.85, va="top", ha="left", linespacing=1.0)
    ax.set_title(f"{key}  burst {BURST_MS[key]} ms", fontsize=8.5)
    ax.set_xlabel("ms (0 = onset\u22125 ms)", fontsize=6.5)
    if j == 0:
        ax.set_ylabel("Amplitude\n(burst)", fontsize=7.5)

fig.savefig("out.png", dpi=150)
